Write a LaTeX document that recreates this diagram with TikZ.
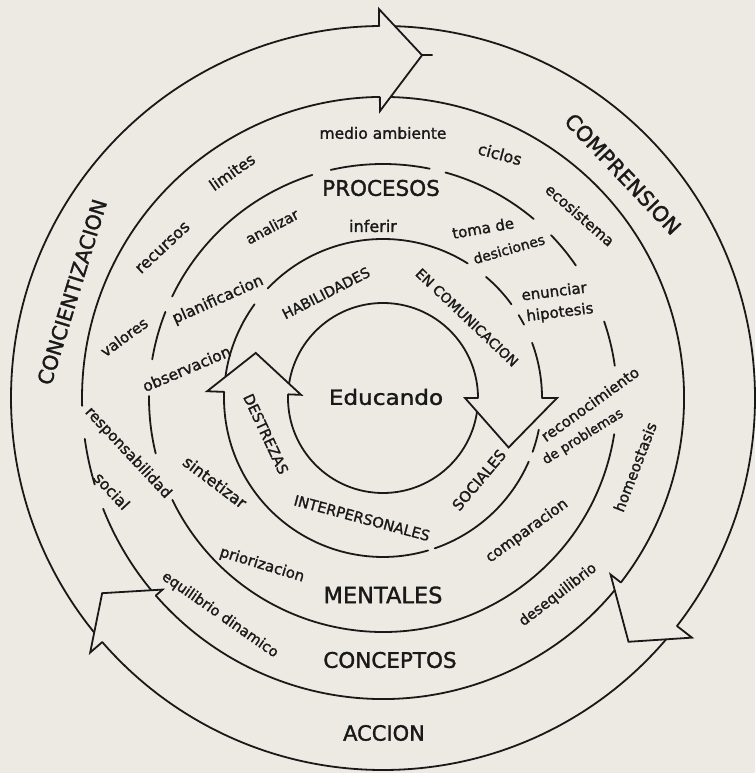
\documentclass[tikz,border=0pt]{standalone}
\usepackage{fontspec}
\setmainfont{DejaVu Sans}[FakeBold=1.4]
\usepackage{graphicx}
\usetikzlibrary{calc}
\definecolor{paper}{RGB}{236,234,226}
\definecolor{ink}{RGB}{25,25,25}
\newcommand\fsz[1]{\fontsize{#1}{#1}\selectfont}
\tikzset{
  ln/.style={line width=1.8pt, draw=ink, line cap=round},
  lbl/.style={inner sep=0pt, text=ink},
}
% arc segment: radius, start angle, end angle
\newcommand\rseg[3]{\draw[ln] ($(C)+(#2:#1)$) arc[start angle=#2, end angle=#3, radius=#1];}
% arrow head: base angle, apex angle, apex radius, R in, R out, tip in, tip out
\newcommand\ahead[7]{%
  \fill[paper] ($(C)+(#1:#6)$) -- ($(C)+(#2:#3)$) -- ($(C)+(#1:#7)$) -- cycle;
  \draw[ln, line join=miter] ($(C)+(#1:#4)$) -- ($(C)+(#1:#6)$) -- ($(C)+(#2:#3)$) -- ($(C)+(#1:#7)$) -- ($(C)+(#1:#5)$);
}
\begin{document}
\begin{tikzpicture}[x=1pt,y=1pt]
\fill[paper] (0,0) rectangle (755,773);
\useasboundingbox (0,0) rectangle (755,773);
\coordinate (C) at (383,375);

% ---- circles ----
\draw[ln] (C) circle[radius=95];
\draw[ln] (C) circle[radius=372];
% R4
\rseg{301}{201.6}{541.5}
\rseg{301}{187.8}{196.7}
% R3
\rseg{234}{74.5}{49.9}
\rseg{234}{44.1}{34.5}
\rseg{234}{19.1}{7.9}
\rseg{234}{-8.9}{-154.2}
\rseg{234}{193.7}{179.5}
\rseg{234}{170.5}{158.4}
\rseg{234}{154.3}{107.6}
\rseg{234}{102.9}{78.5}
% R2
\rseg{159}{172}{143.9}
\rseg{159}{136.5}{57.8}
\rseg{159}{49.6}{36.1}
\rseg{159}{31.4}{27.5}
\rseg{159}{20.3}{0}
\rseg{159}{-11.5}{-19.8}
\rseg{159}{-23.6}{-71}
\rseg{159}{-73.5}{-182.2}

% ---- arrow heads ----
\ahead{90.6}{83.5}{345}{301}{372}{287}{389}
\draw[ln] ($(C)+(83.5:345)$) -- ++(10,0);
\ahead{-37.8}{-44.8}{346}{301}{372}{288}{391}
\ahead{221}{214.8}{342}{301}{372}{292}{388}
\ahead{177.8}{160.5}{135}{95}{159}{82}{176}
\ahead{0}{-21.5}{135}{95}{159}{82}{174}

% ---- titles ----
\node[lbl,font=\fsz{20.5},rotate=73] (concien) at (72,481) {CONCIENTIZACION};
\node[lbl,font=\fsz{21},rotate=-46.5] (compren) at (623,599) {COMPRENSION};
\node[lbl,font=\fsz{21}] (accion) at (384,40) {ACCION};
\node[lbl,font=\fsz{21.5}] (procesos) at (381,585) {PROCESOS};
\node[lbl,font=\fsz{22.5}] (mentales) at (383,178) {MENTALES};
\node[lbl,font=\fsz{21.5}] (conceptos) at (390,113) {CONCEPTOS};
\node[lbl,font=\fsz{21}] (educando) at (386,376) {\scalebox{1.1}[1]{Educando}};

% ---- band 1 ----
\node[lbl,font=\fsz{14.3},rotate=27] (habil) at (326,480) {HABILIDADES};
\node[lbl,font=\fsz{13.9},rotate=-43.5] (encom) at (467,455.5) {EN COMUNICACION};
\node[lbl,font=\fsz{15},rotate=50] (sociales) at (479,293) {SOCIALES};
\node[lbl,font=\fsz{14.6},rotate=-15] (interp) at (362,255) {INTERPERSONALES};
\node[lbl,font=\fsz{14.5},rotate=-65] (destrezas) at (266,339) {DESTREZAS};

% ---- band 2 ----
\node[lbl,font=\fsz{16}] (inferir) at (373,547) {inferir};
\node[lbl,font=\fsz{14.5},rotate=28] (analizar) at (272,546.5) {analizar};
\node[lbl,font=\fsz{15.5},rotate=24] (planif) at (218,473) {planificacion};
\node[lbl,font=\fsz{15.5},rotate=23] (observ) at (186.5,404.5) {observacion};
\node[lbl,font=\fsz{16},rotate=-37] (sintet) at (215,291) {sintetizar};
\node[lbl,font=\fsz{15},rotate=-17] (prior) at (262,208) {priorizacion};
\node[lbl,font=\fsz{15},rotate=36] (compar) at (527,242) {comparacion};
\node[lbl,font=\fsz{15},rotate=35.6] (recon) at (590,369) {reconocimiento};
\node[lbl,font=\fsz{13.5},rotate=32] (deprob) at (583,336) {de problemas};
\node[lbl,font=\fsz{15},rotate=7] (enunc) at (554,482) {enunciar};
\node[lbl,font=\fsz{15},rotate=7] (hipot) at (560,460) {hipotesis};
\node[lbl,font=\fsz{15},rotate=10] (toma) at (483,545) {toma de};
\node[lbl,font=\fsz{14},rotate=16] (desic) at (509,524) {desiciones};

% ---- band 3 ----
\node[lbl,font=\fsz{15.5}] (medio) at (383,640) {medio ambiente};
\node[lbl,font=\fsz{15.5},rotate=35] (limites) at (232,601) {limites};
\node[lbl,font=\fsz{16},rotate=43] (recursos) at (163,525) {recursos};
\node[lbl,font=\fsz{15},rotate=36] (valores) at (124,436) {valores};
\node[lbl,font=\fsz{15},rotate=-47] (respons) at (128,320) {responsabilidad};
\node[lbl,font=\fsz{15.5},rotate=-47] (social) at (112,282) {social};
\node[lbl,font=\fsz{14.5},rotate=-35] (equil) at (220,158) {equilibrio dinamico};
\node[lbl,font=\fsz{14.5},rotate=37.5] (deseq) at (558,178) {desequilibrio};
\node[lbl,font=\fsz{15},rotate=69] (homeo) at (635,306) {homeostasis};
\node[lbl,font=\fsz{15},rotate=-41] (ecosis) at (580,558) {ecosistema};
\node[lbl,font=\fsz{16},rotate=-15] (ciclos) at (500,619) {ciclos};
\end{tikzpicture}
\end{document}
